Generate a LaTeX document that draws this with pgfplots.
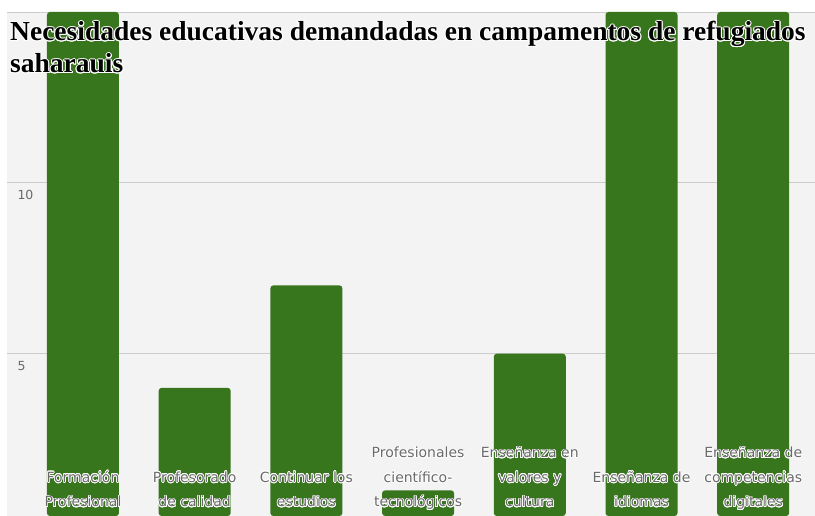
\documentclass[border=0pt]{standalone}
\usepackage{pgfplots}
\pgfplotsset{compat=1.18}
\usepackage{fontspec}
\setmainfont{Liberation Serif}
\newfontfamily\labelfont{DejaVu Sans}
\usepackage{contour}
\contourlength{0.7pt}
\definecolor{bargreen}{HTML}{38761D}
\definecolor{bggray}{HTML}{F3F3F3}
\definecolor{gridgray}{HTML}{CCCCCC}
\definecolor{labgray}{HTML}{6A6A6A}
\newcommand{\cl}[1]{\contour{white}{#1}}
\tikzset{catlab/.style={anchor=base, align=center, yshift=9pt, inner sep=0pt,
    font=\fontsize{14}{24.5}\selectfont\labelfont, text=labgray}}
\begin{document}
\begin{tikzpicture}
\useasboundingbox (0pt,0pt) rectangle (815pt,516pt);
\fill[white] (0pt,0pt) rectangle (815pt,516pt);
\begin{axis}[
  at={(7pt,0pt)}, anchor=south west,
  width=808pt, height=504pt, scale only axis,
  axis background/.style={fill=bggray},
  xmin=-0.68, xmax=6.553,
  ymin=0.25, ymax=15,
  axis line style={draw=none},
  major tick length=0pt,
  ytick={5,10,15},
  yticklabels={5,10,},
  ymajorgrids,
  grid style={gridgray, line width=0.8pt},
  yticklabel style={anchor=north west, xshift=7pt, yshift=-4pt, font=\fontsize{12.5}{14}\selectfont\labelfont, text=labgray},
  xtick={0,1,2,3,4,5,6},
  xticklabels={},
  ybar, bar width=72pt,
  clip=false,
]
\addplot[fill=bargreen, draw=none, rounded corners=3pt] coordinates {
  (0,15) (1,4) (2,7) (3,1) (4,5) (5,15) (6,15)
};
\node[catlab] at (axis cs:0,0.25) {\cl{Formación}\\\cl{Profesional}};
\node[catlab] at (axis cs:1,0.25) {\cl{Profesorado}\\\cl{de calidad}};
\node[catlab] at (axis cs:2,0.25) {\cl{Continuar los}\\\cl{estudios}};
\node[catlab] at (axis cs:3,0.25) {\cl{Profesionales}\\\cl{científico-}\\\cl{tecnológicos}};
\node[catlab] at (axis cs:4,0.25) {\cl{Enseñanza en}\\\cl{valores y}\\\cl{cultura}};
\node[catlab] at (axis cs:5,0.25) {\cl{Enseñanza de}\\\cl{idiomas}};
\node[catlab] at (axis cs:6,0.25) {\cl{Enseñanza de}\\\cl{competencias}\\\cl{digitales}};
\end{axis}
\contourlength{1pt}
\node[anchor=base west, align=left, inner sep=0pt, font=\fontsize{27.5}{32}\selectfont\bfseries] at (10pt,443pt)
  {\contour{white}{Necesidades educativas demandadas en campamentos de refugiados}\\\contour{white}{saharauis}};
\end{tikzpicture}
\end{document}
